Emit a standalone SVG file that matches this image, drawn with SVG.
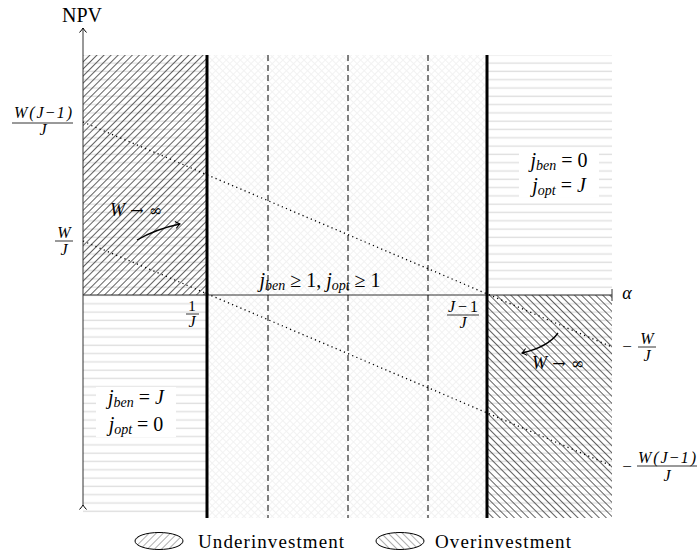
<svg xmlns="http://www.w3.org/2000/svg" width="697" height="559" viewBox="0 0 697 559">
<style>
text{font-family:"Liberation Serif","Times New Roman",serif;fill:#000}
.m{font-style:italic}
.sym{font-family:"DejaVu Serif",serif;font-style:normal}
.thick{stroke:#000;stroke-width:3}
.dash{stroke:#000;stroke-width:1;stroke-dasharray:6,4}
.dot{stroke:#000;stroke-width:1.3;stroke-dasharray:1.2,3.3;fill:none}
.axis{stroke:#333;stroke-width:1;fill:none}
.bar{stroke:#000;stroke-width:0.8}
</style>
<defs>
<pattern id="stripes" width="10" height="8.3" patternUnits="userSpaceOnUse" y="1"><line x1="0" y1="4" x2="10" y2="4" stroke="#e0e0e0" stroke-width="1.4"/></pattern>
<pattern id="ne" width="5" height="5" patternUnits="userSpaceOnUse" patternTransform="rotate(-45)"><line x1="-1" y1="2.5" x2="6" y2="2.5" stroke="#3a3a3a" stroke-width="0.8"/></pattern>
<pattern id="nw" width="5" height="5" patternUnits="userSpaceOnUse" patternTransform="rotate(45)"><line x1="-1" y1="2.5" x2="6" y2="2.5" stroke="#3a3a3a" stroke-width="0.8"/></pattern>
<pattern id="neL" width="5" height="5" patternUnits="userSpaceOnUse" patternTransform="rotate(-45)"><line x1="-1" y1="2.5" x2="6" y2="2.5" stroke="#999" stroke-width="0.8"/></pattern>
<pattern id="nwL" width="5" height="5" patternUnits="userSpaceOnUse" patternTransform="rotate(45)"><line x1="-1" y1="2.5" x2="6" y2="2.5" stroke="#999" stroke-width="0.8"/></pattern>
<pattern id="cross" width="5" height="5" patternUnits="userSpaceOnUse" patternTransform="rotate(45)"><path d="M0,2.5 H5 M2.5,0 V5" stroke="#f2f2f2" stroke-width="1"/></pattern>
<marker id="arr" viewBox="-6 -5 8 10" markerWidth="8" markerHeight="10" refX="0" refY="0" orient="auto" markerUnits="userSpaceOnUse"><path d="M-4.5,-3.5 Q-1.5,-0.8 0,0 Q-1.5,0.8 -4.5,3.5" fill="none" stroke="#000" stroke-width="1"/></marker>
</defs>

<g id="regions">
<rect x="83" y="55" width="124" height="463" fill="url(#stripes)"/>
<rect x="487" y="55" width="125" height="463" fill="url(#stripes)"/>
<rect x="83" y="55" width="124" height="240" fill="url(#ne)"/>
<rect x="487" y="295" width="125" height="223" fill="url(#nw)"/>
<rect x="207" y="55" width="280" height="463" fill="url(#cross)"/>
</g>

<g id="boxes">
<rect x="519" y="148" width="80" height="49" fill="#fff"/>
<rect x="96" y="387" width="80" height="50" fill="#fff"/>
</g>

<g id="connectors">
<line class="axis" x1="83" y1="295" x2="612" y2="295"/>
<line class="axis" x1="612" y1="289" x2="612" y2="301"/>
<line class="axis" x1="83" y1="505" x2="83" y2="28" marker-end="url(#arr)" marker-start="url(#arr)"/>
<line class="dash" x1="268" y1="55" x2="268" y2="518"/>
<line class="dash" x1="348" y1="55" x2="348" y2="518"/>
<line class="dash" x1="428" y1="55" x2="428" y2="518"/>
<line class="thick" x1="207" y1="55" x2="207" y2="518"/>
<line class="thick" x1="487" y1="55" x2="487" y2="518"/>
<line class="dot" x1="83" y1="122" x2="612" y2="347"/>
<line class="dot" x1="83" y1="241" x2="612" y2="466"/>
<path d="M137,240 Q156,229 180,224" fill="none" stroke="#000" stroke-width="1.3" marker-end="url(#arr)"/>
<path d="M558,333 Q548,347 522,353" fill="none" stroke="#000" stroke-width="1.3" marker-end="url(#arr)"/>
</g>

<g id="labels">
<text x="82" y="22" font-size="20" text-anchor="middle">NPV</text>
<text x="627" y="299" font-size="18" class="m" text-anchor="middle">α</text>

<text x="43" y="118" font-size="16" class="m" text-anchor="middle" textLength="58">W(J<tspan font-style="normal">−</tspan>1)</text>
<line class="bar" x1="12" y1="123" x2="73" y2="123"/>
<text x="43" y="135" font-size="16" class="m" text-anchor="middle">J</text>

<text x="64" y="238" font-size="16" class="m" text-anchor="middle">W</text>
<line class="bar" x1="55" y1="241" x2="73" y2="241"/>
<text x="64" y="255" font-size="16" class="m" text-anchor="middle">J</text>

<text x="192" y="311" font-size="15" text-anchor="middle">1</text>
<line class="bar" x1="186" y1="314" x2="199" y2="314"/>
<text x="192" y="327" font-size="16" class="m" text-anchor="middle">J</text>

<text x="463" y="312" font-size="16" class="m" text-anchor="middle" textLength="30">J<tspan font-style="normal">−1</tspan></text>
<line class="bar" x1="447" y1="315" x2="479" y2="315"/>
<text x="463" y="328" font-size="16" class="m" text-anchor="middle">J</text>

<text x="627" y="352" font-size="17" text-anchor="middle">−</text>
<text x="647" y="344" font-size="16" class="m" text-anchor="middle">W</text>
<line class="bar" x1="638" y1="347" x2="656" y2="347"/>
<text x="647" y="361" font-size="16" class="m" text-anchor="middle">J</text>

<text x="627" y="472" font-size="17" text-anchor="middle">−</text>
<text x="667" y="463" font-size="16" class="m" text-anchor="middle" textLength="58">W(J<tspan font-style="normal">−</tspan>1)</text>
<line class="bar" x1="637" y1="466" x2="697" y2="466"/>
<text x="667" y="481" font-size="16" class="m" text-anchor="middle">J</text>

<text x="136" y="216" font-size="18" text-anchor="middle"><tspan class="m">W</tspan><tspan class="sym" font-size="16"> → ∞</tspan></text>
<text x="558" y="369" font-size="18" text-anchor="middle"><tspan class="m">W</tspan><tspan class="sym" font-size="16"> → ∞</tspan></text>

<text x="559" y="167" font-size="20" text-anchor="middle"><tspan class="m">j</tspan><tspan class="m" font-size="14" dy="3">ben</tspan><tspan dy="-3"> = 0</tspan></text>
<text x="559" y="192" font-size="20" text-anchor="middle"><tspan class="m">j</tspan><tspan class="m" font-size="14" dy="3">opt</tspan><tspan dy="-3"> = </tspan><tspan class="m">J</tspan></text>

<text x="136" y="404" font-size="20" text-anchor="middle"><tspan class="m">j</tspan><tspan class="m" font-size="14" dy="3">ben</tspan><tspan dy="-3"> = </tspan><tspan class="m">J</tspan></text>
<text x="136" y="431" font-size="20" text-anchor="middle"><tspan class="m">j</tspan><tspan class="m" font-size="14" dy="3">opt</tspan><tspan dy="-3"> = 0</tspan></text>

<text x="320" y="287" font-size="20" text-anchor="middle"><tspan class="m">j</tspan><tspan class="m" font-size="14" dy="3">ben</tspan><tspan dy="-3"> ≥ 1, </tspan><tspan class="m">j</tspan><tspan class="m" font-size="14" dy="3">opt</tspan><tspan dy="-3"> ≥ 1</tspan></text>
</g>

<g id="legend">
<ellipse cx="159" cy="541" rx="24" ry="8.5" fill="url(#neL)" stroke="#000" stroke-width="1"/>
<text x="198" y="548" font-size="19" textLength="146">Underinvestment</text>
<ellipse cx="400" cy="541" rx="24" ry="8.5" fill="url(#nwL)" stroke="#000" stroke-width="1"/>
<text x="435" y="548" font-size="19" textLength="136">Overinvestment</text>
</g>
</svg>
